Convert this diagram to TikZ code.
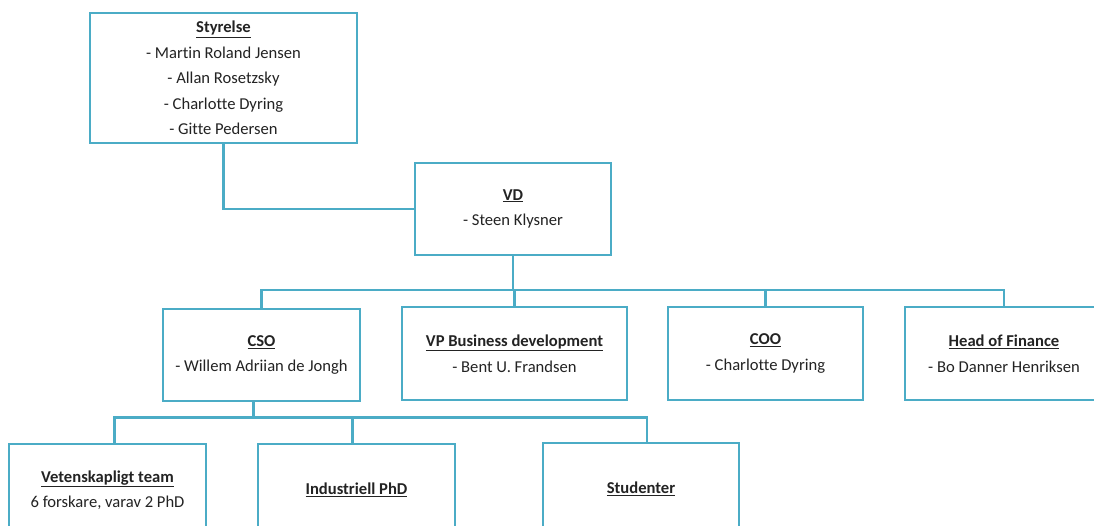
\documentclass[tikz,border=0pt]{standalone}
\usepackage{fontspec}
\setmainfont{Carlito}[Ligatures=NoCommon]
\usepackage{tikz}

\definecolor{orgblue}{RGB}{75,172,198}
\definecolor{orgtext}{RGB}{35,35,35}
\newcommand{\role}[1]{\underline{\textbf{#1}}}

\tikzset{
    orgbox/.style={draw=orgblue, line width=2.5pt, fill=white, inner sep=0pt,
        align=center, text=orgtext, font=\fontsize{16.6}{25.5}\selectfont},
    orgline/.style={draw=orgblue, line width=2.5pt}
}

\begin{document}
\begin{tikzpicture}[x=1pt,y=-1pt]
        \useasboundingbox (0,0) rectangle (1094,526);
        \clip (0,0) rectangle (1094,526);
        
        % Board and CEO
        \node[orgbox, minimum width=267pt, minimum height=130pt] (styrelse) at (223.5,78)
            {\role{Styrelse}\\- Martin Roland Jensen\\- Allan Rosetzsky\\- Charlotte Dyring\\- Gitte Pedersen};
        \node[orgbox, minimum width=196pt, minimum height=92pt] (vd) at (513,209)
            {\role{VD}\\- Steen Klysner};
        
        % Second level
        \node[orgbox, minimum width=197pt, minimum height=92pt] (cso) at (261.5,355)
            {\role{CSO}\\- Willem Adriian de Jongh};
        \node[orgbox, minimum width=225pt, minimum height=93pt] (vp) at (514.5,353.5)
            {\role{VP Business development}\\- Bent U. Frandsen};
        \node[orgbox, minimum width=195pt, minimum height=93pt] (coo) at (765.5,353.5)
            {\role{COO}\\- Charlotte Dyring};
        \node[orgbox, minimum width=198pt, minimum height=93pt] (fin) at (1004,353.5)
            {\role{Head of Finance}\\- Bo Danner Henriksen};
        
        % Third level
        \node[orgbox, minimum width=197pt, minimum height=92pt] (vet) at (107.5,490)
            {\role{Vetenskapligt team}\\6 forskare, varav 2 PhD};
        \node[orgbox, minimum width=197pt, minimum height=92pt] (phd) at (356.5,490)
            {\role{Industriell PhD}};
        \node[orgbox, minimum width=196pt, minimum height=92pt] (stud) at (641,489)
            {\role{Studenter}};
        
        % Connectors
        \draw[orgline] (styrelse.south) |- (vd.west);
        \foreach \c in {cso,vp,coo,fin}
            \draw[orgline] (vd.south) -- ++(0,34) -| (\c.north);
        \foreach \c/\s in {vet/7,phd/-4,stud/6}
            \draw[orgline] ([xshift=-8pt]cso.south) -- ++(0,15) -| ([xshift=\s pt]\c.north);
    \end{tikzpicture}
\end{document}
